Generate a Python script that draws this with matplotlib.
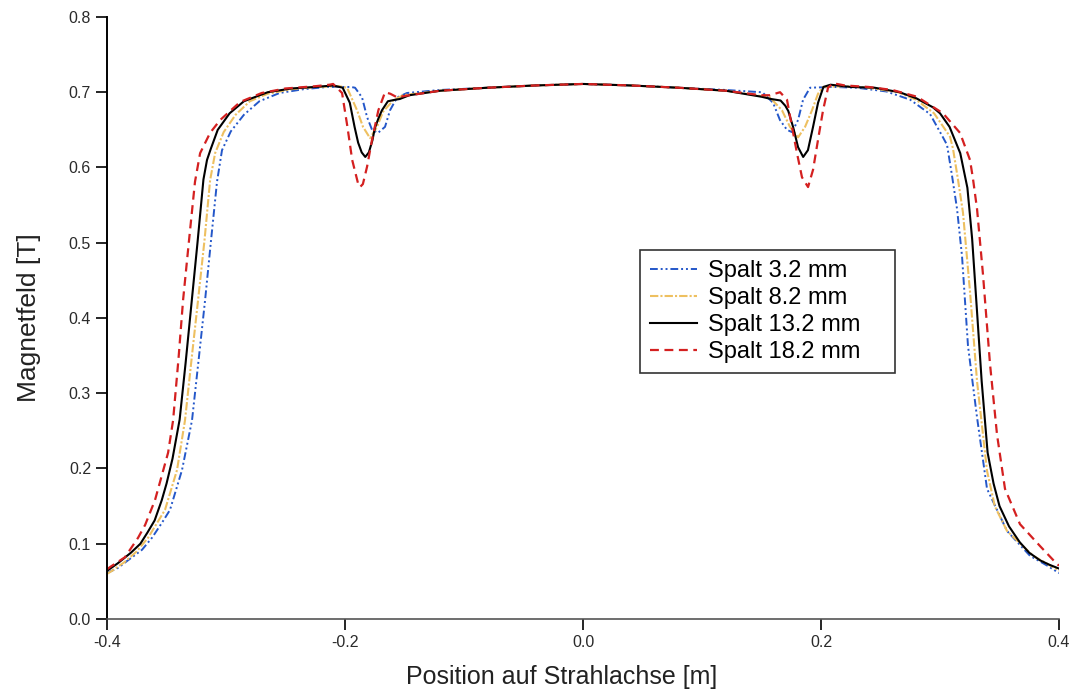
import matplotlib
matplotlib.use("Agg")
import matplotlib.pyplot as plt

plt.rcParams['font.family'] = ['Liberation Sans', 'DejaVu Sans']

# Spalt 3.2 mm
x_32 = [-0.400, -0.3908, -0.3706, -0.3622, -0.3538, -0.3471, -0.337, -0.3286, -0.323, -0.3176,
        -0.3125, -0.3076, -0.3034, -0.296, -0.285, -0.272, -0.255, -0.235, -0.215, -0.195,
        -0.1916, -0.1857, -0.1815, -0.1773, -0.1723, -0.1664, -0.1622, -0.1563, -0.1479, -0.120,
        -0.080, -0.040, 0.000, 0.040, 0.080, 0.120, 0.150, 0.1513, 0.1597, 0.1655,
        0.1714, 0.1756, 0.1807, 0.1849, 0.1908, 0.210, 0.230, 0.255, 0.275, 0.2916,
        0.3025, 0.3059, 0.310, 0.3143, 0.3185, 0.3235, 0.3311, 0.3395, 0.3563, 0.3756,
        0.390, 0.400]
y_32 = [0.061, 0.068, 0.092, 0.108, 0.128, 0.145, 0.198, 0.264, 0.345, 0.424,
        0.505, 0.581, 0.623, 0.648, 0.670, 0.688, 0.699, 0.704, 0.707, 0.707,
        0.706, 0.693, 0.667, 0.650, 0.646, 0.654, 0.676, 0.693, 0.699, 0.703,
        0.706, 0.709, 0.711, 0.709, 0.706, 0.703, 0.700, 0.699, 0.686, 0.663,
        0.650, 0.647, 0.663, 0.690, 0.706, 0.707, 0.706, 0.701, 0.690, 0.671,
        0.640, 0.630, 0.590, 0.545, 0.482, 0.363, 0.268, 0.173, 0.117, 0.084,
        0.071, 0.061]

# Spalt 8.2 mm
x_82 = [-0.400, -0.3958, -0.385, -0.375, -0.3655, -0.3513, -0.3412, -0.3345, -0.329, -0.3235,
        -0.318, -0.3134, -0.3092, -0.302, -0.292, -0.280, -0.265, -0.245, -0.225, -0.205,
        -0.1983, -0.1899, -0.1849, -0.179, -0.1731, -0.1681, -0.1597, -0.1513, -0.120, -0.080,
        -0.040, 0.000, 0.040, 0.080, 0.120, 0.1571, 0.1672, 0.1739, 0.1807, 0.1866,
        0.1924, 0.1975, 0.2017, 0.220, 0.240, 0.265, 0.280, 0.295, 0.3084, 0.3109,
        0.315, 0.3193, 0.3252, 0.3311, 0.3395, 0.346, 0.3563, 0.3782, 0.3983, 0.400]
y_82 = [0.060, 0.064, 0.076, 0.090, 0.108, 0.145, 0.198, 0.264, 0.345, 0.424,
        0.505, 0.583, 0.619, 0.647, 0.670, 0.688, 0.698, 0.704, 0.707, 0.708,
        0.706, 0.676, 0.654, 0.639, 0.654, 0.674, 0.689, 0.696, 0.702, 0.706,
        0.709, 0.711, 0.709, 0.706, 0.702, 0.693, 0.676, 0.654, 0.640, 0.654,
        0.676, 0.698, 0.707, 0.708, 0.706, 0.700, 0.690, 0.672, 0.641, 0.625,
        0.585, 0.540, 0.435, 0.316, 0.197, 0.150, 0.117, 0.084, 0.066, 0.064]

# Spalt 13.2 mm
x_132 = [-0.400, -0.391, -0.380, -0.372, -0.366, -0.360, -0.354, -0.350, -0.345, -0.339,
         -0.334, -0.329, -0.324, -0.319, -0.316, -0.313, -0.307, -0.297, -0.285, -0.265,
         -0.245, -0.225, -0.210, -0.202, -0.196, -0.192, -0.189, -0.186, -0.183, -0.180,
         -0.177, -0.175, -0.172, -0.169, -0.164, -0.158, -0.154, -0.146, -0.120, -0.080,
         -0.040, 0.000, 0.040, 0.080, 0.120, 0.150, 0.158, 0.166, 0.170, 0.1725,
         0.1765, 0.1807, 0.185, 0.189, 0.1933, 0.1975, 0.202, 0.208, 0.225, 0.245,
         0.266, 0.280, 0.294, 0.300, 0.308, 0.317, 0.323, 0.327, 0.331, 0.335,
         0.340, 0.345, 0.350, 0.358, 0.367, 0.375, 0.384, 0.392, 0.400]
y_132 = [0.064, 0.074, 0.088, 0.100, 0.115, 0.131, 0.158, 0.180, 0.213, 0.265,
         0.340, 0.420, 0.500, 0.584, 0.610, 0.624, 0.650, 0.672, 0.688, 0.700,
         0.705, 0.707, 0.709, 0.706, 0.686, 0.654, 0.633, 0.620, 0.614, 0.620,
         0.636, 0.652, 0.665, 0.676, 0.688, 0.690, 0.691, 0.696, 0.702, 0.706,
         0.709, 0.711, 0.709, 0.706, 0.702, 0.694, 0.691, 0.689, 0.682, 0.675,
         0.654, 0.627, 0.614, 0.623, 0.654, 0.686, 0.707, 0.710, 0.707, 0.706,
         0.700, 0.692, 0.680, 0.672, 0.654, 0.619, 0.573, 0.505, 0.411, 0.316,
         0.221, 0.180, 0.150, 0.123, 0.102, 0.088, 0.078, 0.072, 0.067]

# Spalt 18.2 mm
x_182 = [-0.400, -0.3975, -0.385, -0.3739, -0.368, -0.3597, -0.3487, -0.3445, -0.340, -0.3361,
         -0.331, -0.3261, -0.3218, -0.3134, -0.305, -0.2882, -0.270, -0.250, -0.225, -0.213,
         -0.210, -0.2025, -0.198, -0.194, -0.1891, -0.1874, -0.185, -0.1815, -0.1773, -0.172,
         -0.1664, -0.162, -0.156, -0.150, -0.120, -0.080, -0.040, 0.000, 0.040, 0.080,
         0.120, 0.150, 0.157, 0.1656, 0.1714, 0.1756, 0.1798, 0.1840, 0.1891, 0.1933,
         0.1975, 0.2017, 0.2059, 0.2101, 0.220, 0.240, 0.260, 0.2807, 0.3025, 0.3168,
         0.3252, 0.3277, 0.3311, 0.3361, 0.342, 0.3479, 0.3546, 0.3672, 0.384, 0.3983,
         0.400]
y_182 = [0.066, 0.069, 0.082, 0.108, 0.125, 0.158, 0.221, 0.264, 0.345, 0.424,
         0.505, 0.581, 0.619, 0.646, 0.663, 0.687, 0.699, 0.705, 0.708, 0.710,
         0.711, 0.699, 0.654, 0.610, 0.579, 0.574, 0.578, 0.601, 0.637, 0.676,
         0.700, 0.698, 0.693, 0.695, 0.702, 0.706, 0.709, 0.711, 0.709, 0.706,
         0.702, 0.696, 0.696, 0.700, 0.690, 0.654, 0.619, 0.587, 0.574, 0.597,
         0.637, 0.676, 0.706, 0.712, 0.709, 0.707, 0.703, 0.694, 0.672, 0.646,
         0.610, 0.585, 0.545, 0.458, 0.339, 0.245, 0.173, 0.126, 0.097, 0.073,
         0.071]

fig = plt.figure(figsize=(10.77, 6.93), dpi=100)
ax = fig.add_axes([0.0994, 0.1068, 0.8839, 0.8687])

ax.plot(x_32, y_32, color='#2457c9', lw=1.4, linestyle=(0, (4, 1.5, 1, 1.5, 1, 1.5)), label='Spalt 3.2 mm')
ax.plot(x_82, y_82, color='#eec060', lw=1.5, linestyle=(0, (4, 1, 1, 1)), label='Spalt 8.2 mm')
ax.plot(x_132, y_132, color='black', lw=1.5, label='Spalt 13.2 mm')
ax.plot(x_182, y_182, color='#d42020', lw=1.6, linestyle=(0, (4, 2.5)), label='Spalt 18.2 mm')

ax.set_xlim(-0.4, 0.4)
ax.set_ylim(0.0, 0.8)
ax.set_xticks([-0.4, -0.2, 0.0, 0.2, 0.4])
ax.set_xticklabels(['-0.4', '-0.2', '0.0', '0.2', '0.4'])
ax.set_yticks([0.0, 0.1, 0.2, 0.3, 0.4, 0.5, 0.6, 0.7, 0.8])
ax.set_yticklabels(['0.0', '0.1', '0.2', '0.3', '0.4', '0.5', '0.6', '0.7', '0.8'])
ax.tick_params(direction='out', length=8, width=1.2, labelsize=11.5, colors='black', labelcolor='#2a2a2a')
ax.spines['top'].set_visible(False)
ax.spines['right'].set_visible(False)
ax.spines['left'].set_linewidth(1.4)
ax.spines['bottom'].set_linewidth(1.2)
ax.spines['bottom'].set_color('#555555')

ax.set_xlabel('Position auf Strahlachse [m]', fontsize=18, color='#222222')
ax.xaxis.set_label_coords(0.478, -0.077)
ax.set_ylabel('Magnetfeld [T]', fontsize=19, color='#222222', labelpad=20)

leg = ax.legend(loc='upper left', bbox_to_anchor=(0.56, 0.413, 0.268, 0.2), mode='expand',
                fontsize=17, frameon=True, fancybox=False, edgecolor='black',
                handlelength=2.0, handletextpad=0.45, borderpad=0.42, labelspacing=0.22,
                borderaxespad=0)
leg.get_frame().set_linewidth(1.2)

fig.savefig('out.png', dpi=100)
